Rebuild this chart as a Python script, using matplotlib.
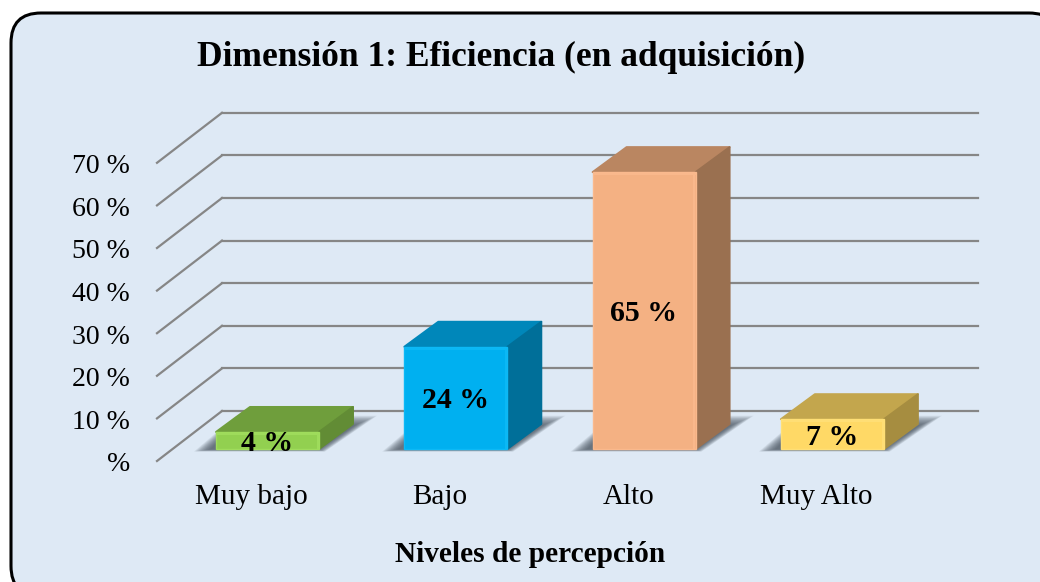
"""Dimension 1 efficiency chart, drawn as a faux 3D bar chart."""

import matplotlib.pyplot as plt
from matplotlib.patches import FancyBboxPatch, Polygon
from matplotlib.transforms import Affine2D

plt.rcParams["font.family"] = ["Liberation Serif", "DejaVu Serif"]

categories = ["Muy bajo", "Bajo", "Alto", "Muy Alto"]
values = [4, 24, 65, 7]
value_labels = ["4 %", "24 %", "65 %", "7 %"]
ticks = [0, 10, 20, 30, 40, 50, 60, 70]
tick_labels = ["%", "10 %", "20 %", "30 %", "40 %", "50 %", "60 %", "70 %"]
front_colors = ["#92D050", "#00B0F0", "#F4B183", "#FFD966"]
light_colors = ["#9FDC5C", "#0CB9F6", "#FAB98D", "#FFDF76"]
top_colors = ["#6F9E3C", "#0087BA", "#BA8661", "#C3A64D"]
side_colors = ["#628C35", "#006F99", "#9A7050", "#A68D40"]

W, H = 1040, 582
PX_X = 188.3  # pixels between categories
PX_Y = 4.26  # pixels per percent
X0, Y0 = 267.5, 449.0  # first bar centre, bar base line
BAR_W = 103 / PX_X
DEPTH_X, DEPTH_Y = 34 / PX_X, 25 / PX_Y
FLOOR_Y = (449 - 461) / PX_Y
WALL_L, WALL_X = (157 - X0) / PX_X, (222 - X0) / PX_X
WALL_R = (978 - X0) / PX_X
WALL_DY = 50 / PX_Y


def shadow(ax, x, w):
    """Soft cast shadow on the floor, stacked from faint polygons."""
    left, right = x - w / 2, x + w / 2
    steps = 14
    for k in range(steps):
        f = 1 - k / (steps - 1)  # 1 for the widest, faintest layer
        ax.add_patch(
            Polygon(
                [
                    (left - (6 + 16 * f) / PX_X, -0.1 - 0.5 * f),
                    (right + (6 * f) / PX_X, -0.1 - 0.5 * f),
                    (right + (36 + 22 * f) / PX_X, 5.6 + 2.2 * f),
                    (left + 20 / PX_X, 5.6 + 2.2 * f),
                ],
                closed=True,
                fc="#3E4A54",
                ec="none",
                alpha=0.085,
                zorder=2,
            )
        )


def main():
    fig = plt.figure(figsize=(W / 100, H / 100), dpi=100)
    ax = fig.add_axes([0, 0, 1, 1])
    ax.set_xlim(-X0 / PX_X, (W - X0) / PX_X)
    ax.set_ylim((Y0 - H) / PX_Y, Y0 / PX_Y)
    ax.axis("off")

    # panel, in pixels from the top left corner; runs off the right and bottom edge
    px = Affine2D().scale(1, -1).translate(0, H)
    ax.add_patch(
        FancyBboxPatch(
            (11, 13),
            1048,
            583,
            boxstyle="round,pad=0,rounding_size=30",
            transform=px,
            fc="#DEE9F5",
            ec="black",
            lw=2.2,
            zorder=0,
        )
    )

    for t, lab in zip(ticks, tick_labels):
        y = t * 42.6 / (10 * PX_Y) + FLOOR_Y
        ax.plot([WALL_X, WALL_R], [y + WALL_DY] * 2, color="#868686", lw=1.6, zorder=1)
        ax.plot([WALL_L, WALL_X], [y, y + WALL_DY], color="#868686", lw=1.6, zorder=1)
        ax.text((130 - X0) / PX_X, y - 0.9, lab, ha="right", va="center", fontsize=20)

    for i, (v, lab) in enumerate(zip(values, value_labels)):
        left, right = i - BAR_W / 2, i + BAR_W / 2
        shadow(ax, i, BAR_W)
        ax.add_patch(Polygon(
            [(left, v), (right, v), (right + DEPTH_X, v + DEPTH_Y), (left + DEPTH_X, v + DEPTH_Y)],
            fc=top_colors[i], ec=top_colors[i], lw=1.4, joinstyle="round", zorder=3,
        ))
        ax.add_patch(Polygon(
            [(right, 0), (right + DEPTH_X, DEPTH_Y), (right + DEPTH_X, v + DEPTH_Y), (right, v)],
            fc=side_colors[i], ec=side_colors[i], lw=1.4, joinstyle="round", zorder=3,
        ))
        ax.bar(i, v, width=BAR_W, color=front_colors[i], edgecolor=light_colors[i], lw=1.0, zorder=4)
        # bevel highlights along the top and right of the front face
        ax.plot([left + 0.005, right - 0.005], [v - 0.45] * 2, color=light_colors[i], lw=1.4, zorder=4)
        ax.plot([right - 0.007] * 2, [0.3, v - 0.3], color=light_colors[i], lw=1.4, zorder=4)
        ax.text(i - 0.003, max(v / 2, 1.9) - 0.7, lab, ha="center", va="center",
                fontsize=21.5, fontweight="bold", zorder=5)
        ax.text(i - 0.085, -11.2, categories[i], ha="center", va="center", fontsize=21)

    ax.text((501 - X0) / PX_X, (Y0 - 57) / PX_Y, "Dimensión 1: Eficiencia (en adquisición)",
            ha="center", va="center", fontsize=25.5, fontweight="bold")
    ax.text((530 - X0) / PX_X, (Y0 - 555) / PX_Y, "Niveles de percepción",
            ha="center", va="center", fontsize=21.2, fontweight="bold")

    fig.savefig("out.png", dpi=100)


if __name__ == "__main__":
    main()
